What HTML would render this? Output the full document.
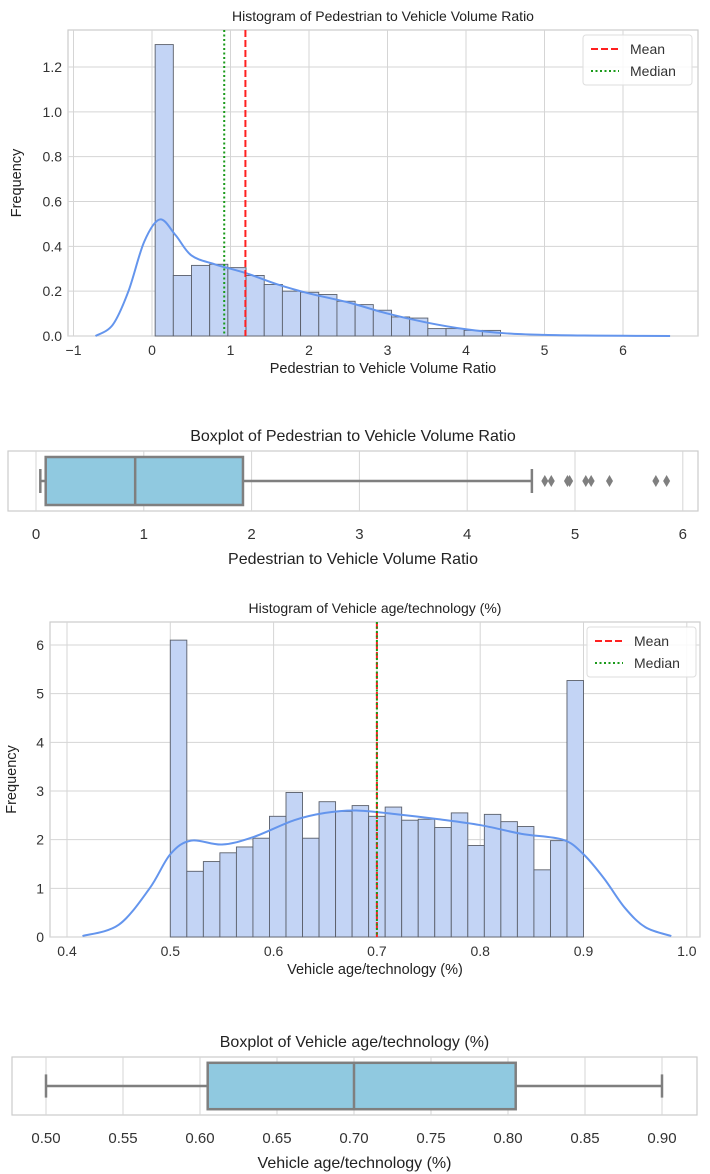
<!DOCTYPE html>
<html><head><meta charset="utf-8">
<style>
html,body{margin:0;padding:0;background:#fff;}
svg{display:block;font-family:"Liberation Sans",Arial,sans-serif;}
</style></head>
<body>
<svg id="s" width="710" height="1174" viewBox="0 0 710 1174"></svg>
<script>
// ---- Data: chart 1 (pedestrian ratio histogram)
const h1BinStart = 0.04;
const h1BinWidth = 0.2316;
const h1Counts = [1.30,0.27,0.315,0.32,0.305,0.27,0.23,0.20,0.195,0.185,0.155,0.14,0.115,0.085,0.08,0.033,0.033,0.025,0.025];
const h1KdeX = [-0.72,-0.5,-0.3,-0.1,0.1,0.3,0.5,0.8,1.2,1.6,2.0,2.5,3.0,3.5,4.0,4.5,5.0,5.5,6.0,6.6];
const h1KdeY = [0.0,0.05,0.2,0.42,0.52,0.45,0.36,0.32,0.28,0.23,0.19,0.15,0.10,0.06,0.03,0.012,0.005,0.002,0.001,0.0];
const h1Mean = 1.19, h1Median = 0.92;
const h1XTicks = [-1,0,1,2,3,4,5,6];
const h1YTicks = [0,0.2,0.4,0.6,0.8,1.0,1.2];
// ---- Data: chart 2 (pedestrian ratio boxplot)
const b1Stats = {wlo:0.04,q1:0.09,med:0.92,q3:1.92,whi:4.6};
const b1Outliers = [4.72,4.78,4.93,4.95,5.1,5.15,5.32,5.75,5.85];
const b1XTicks = [0,1,2,3,4,5,6];
// ---- Data: chart 3 (vehicle age histogram)
const h2BinStart = 0.5;
const h2BinWidth = 0.016;
const h2Counts = [6.1,1.35,1.55,1.73,1.85,2.03,2.48,2.97,2.03,2.78,2.58,2.7,2.48,2.67,2.4,2.42,2.25,2.55,1.88,2.52,2.37,2.27,1.38,1.98,5.27];
const h2KdeX = [0.415,0.45,0.48,0.5,0.52,0.55,0.58,0.62,0.65,0.68,0.72,0.76,0.8,0.84,0.88,0.9,0.92,0.94,0.96,0.985];
const h2KdeY = [0.02,0.25,1.0,1.7,1.98,1.9,2.05,2.4,2.55,2.6,2.52,2.42,2.3,2.12,2.0,1.7,1.2,0.6,0.2,0.02];
const h2Mean = 0.7, h2Median = 0.7;
const h2XTicks = [0.4,0.5,0.6,0.7,0.8,0.9,1.0];
const h2YTicks = [0,1,2,3,4,5,6];
// ---- Data: chart 4 (vehicle age boxplot)
const b2Stats = {wlo:0.5,q1:0.605,med:0.70,q3:0.805,whi:0.9};
const b2Outliers = [];
const b2XTicks = [0.50,0.55,0.60,0.65,0.70,0.75,0.80,0.85,0.90];

const svg = document.getElementById('s');
const NS = 'http://www.w3.org/2000/svg';
function el(tag, attrs, parent, text){
  const e = document.createElementNS(NS, tag);
  for (const k in attrs) e.setAttribute(k, attrs[k]);
  if (text !== undefined) e.textContent = text;
  (parent||svg).appendChild(e);
  return e;
}
function lin(d0,d1,r0,r1){return v=>r0+(v-d0)*(r1-r0)/(d1-d0);}
function smoothPath(pts){
  let d='M'+pts[0][0].toFixed(2)+','+pts[0][1].toFixed(2);
  for(let i=0;i<pts.length-1;i++){
    const p0=pts[Math.max(0,i-1)],p1=pts[i],p2=pts[i+1],p3=pts[Math.min(pts.length-1,i+2)];
    const c1x=p1[0]+(p2[0]-p0[0])/6,c1y=p1[1]+(p2[1]-p0[1])/6;
    const c2x=p2[0]-(p3[0]-p1[0])/6,c2y=p2[1]-(p3[1]-p1[1])/6;
    d+=` C${c1x.toFixed(2)},${c1y.toFixed(2)} ${c2x.toFixed(2)},${c2y.toFixed(2)} ${p2[0].toFixed(2)},${p2[1].toFixed(2)}`;
  }
  return d;
}

function histogram(o){
  const g = el('g',{});
  
  
  const X = lin(o.xd[0],o.xd[1],o.xr[0],o.xr[1]);
  const Y = lin(0,o.yd,o.bottom,o.ytop);
  const fr = el('rect',{x:o.left,y:o.top,width:o.right-o.left,height:o.bottom-o.top,fill:'#fff',stroke:'#cccccc','stroke-width':1.2},g);
  
  
  o.xt.forEach(t=>{
    const x=X(t);
    el('line',{x1:x,x2:x,y1:o.top,y2:o.bottom,stroke:'#d5d5d5','stroke-width':1},g);
    const lbl = el('text',{x:x,y:o.bottom+19,'text-anchor':'middle','font-size':14,fill:'#333'},g,o.xfmt(t));
    
    
  });
  o.yt.forEach(t=>{
    const y=Y(t);
    el('line',{x1:o.left,x2:o.right,y1:y,y2:y,stroke:'#d5d5d5','stroke-width':1},g);
    const lbl = el('text',{x:o.left-6,y:y+5,'text-anchor':'end','font-size':14,fill:'#333'},g,o.yfmt(t));
    
    
  });
  o.counts.forEach((c,i)=>{
    const x0=X(o.bs+i*o.bw), x1=X(o.bs+(i+1)*o.bw);
    const r = el('rect',{x:x0,y:Y(c),width:x1-x0,height:Y(0)-Y(c),fill:'#c3d4f5',stroke:'#5a5f6a','stroke-width':0.9},g);
    
    
  });
  const pts = o.kx.map((v,i)=>[X(v),Y(o.ky[i])]);
  const k = el('path',{d:smoothPath(pts),fill:'none',stroke:'#6495ed','stroke-width':2,'stroke-linejoin':'round'},g);
  
  
  const mx=X(o.mean), mdx=X(o.median);
  const ml = el('line',{x1:mx,x2:mx,y1:o.top,y2:o.bottom,stroke:'#ff2020','stroke-width':2,'stroke-dasharray':'7,3'},g);
  
  
  const mdl = el('line',{x1:mdx,x2:mdx,y1:o.top,y2:o.bottom,stroke:'#1a9a1a','stroke-width':2,'stroke-dasharray':'2,2.5'},g);
  
  
  const lg = el('g',{},g);
  
  
  const lx=o.legend[0], ly=o.legend[1];
  el('rect',{x:lx,y:ly,width:109,height:50,rx:3,fill:'#fff','fill-opacity':0.85,stroke:'#dddddd'},lg);
  el('line',{x1:lx+8,x2:lx+36,y1:ly+14,y2:ly+14,stroke:'#ff2020','stroke-width':2,'stroke-dasharray':'7,3'},lg);
  const t1=el('text',{x:lx+47,y:ly+19,'font-size':14,fill:'#333'},lg,'Mean');
  
  
  el('line',{x1:lx+8,x2:lx+36,y1:ly+36,y2:ly+36,stroke:'#1a9a1a','stroke-width':2,'stroke-dasharray':'2,2.5'},lg);
  const t2=el('text',{x:lx+47,y:ly+41,'font-size':14,fill:'#333'},lg,'Median');
  
  
  const tt=el('text',{x:(o.left+o.right)/2,y:o.top-9,'text-anchor':'middle','font-size':14,fill:'#222'},g,o.title);
  
  
  const xl=el('text',{x:(o.left+o.right)/2,y:o.bottom+37,'text-anchor':'middle','font-size':14.5,fill:'#222'},g,o.xlabel);
  
  
  const cy=(o.top+o.bottom)/2;
  const yl=el('text',{x:o.ylx,y:cy,'text-anchor':'middle','font-size':14.5,fill:'#222',transform:'rotate(-90 '+o.ylx+' '+cy+')'},g,'Frequency');
  
  
}

function boxplot(o){
  const g = el('g',{});
  
  
  const X = lin(o.xd[0],o.xd[1],o.xr[0],o.xr[1]);
  el('rect',{x:o.left,y:o.top,width:o.right-o.left,height:o.bottom-o.top,fill:'#fff',stroke:'#cccccc','stroke-width':1.2},g);
  o.xt.forEach(t=>{
    const x=X(t);
    el('line',{x1:x,x2:x,y1:o.top,y2:o.bottom,stroke:'#d5d5d5','stroke-width':1},g);
    const lbl=el('text',{x:x,y:o.bottom+28,'text-anchor':'middle','font-size':15,fill:'#333'},g,o.xfmt(t));
    
    
  });
  const s=o.s, cy=(o.top+o.bottom)/2, bh=(o.bottom-o.top)*0.8;
  const c='#7f7f7f';
  el('line',{x1:X(s.wlo),x2:X(s.q1),y1:cy,y2:cy,stroke:c,'stroke-width':2.5},g);
  el('line',{x1:X(s.q3),x2:X(s.whi),y1:cy,y2:cy,stroke:c,'stroke-width':2.5},g);
  el('line',{x1:X(s.wlo),x2:X(s.wlo),y1:cy-bh/4,y2:cy+bh/4,stroke:c,'stroke-width':2.5},g);
  el('line',{x1:X(s.whi),x2:X(s.whi),y1:cy-bh/4,y2:cy+bh/4,stroke:c,'stroke-width':2.5},g);
  const b=el('rect',{x:X(s.q1),y:cy-bh/2,width:X(s.q3)-X(s.q1),height:bh,fill:'#90c9e0',stroke:c,'stroke-width':2.5},g);
  
  
  const m=el('line',{x1:X(s.med),x2:X(s.med),y1:cy-bh/2,y2:cy+bh/2,stroke:c,'stroke-width':2.5},g);
  
  
  o.out.forEach(v=>{
    const x=X(v);
    const p=el('path',{d:`M${x},${cy-6} L${x+3.5},${cy} L${x},${cy+6} L${x-3.5},${cy} Z`,fill:c},g);
    
    
  });
  const tt=el('text',{x:(o.left+o.right)/2,y:o.top-10,'text-anchor':'middle','font-size':16,fill:'#222'},g,o.title);
  
  
  const xl=el('text',{x:(o.left+o.right)/2,y:o.bottom+53,'text-anchor':'middle','font-size':16,fill:'#222'},g,o.xlabel);
  
  
}

histogram({name:'histogram-pedestrian-ratio',left:68,right:698,top:30,bottom:336,
  xd:[0,1],xr:[152,230.5],yd:1.2,ytop:67,xt:h1XTicks,yt:h1YTicks,
  xfmt:t=>t<0?'\u2212'+(-t):String(t),yfmt:t=>t.toFixed(1),
  counts:h1Counts,bs:h1BinStart,bw:h1BinWidth,kx:h1KdeX,ky:h1KdeY,mean:h1Mean,median:h1Median,
  legend:[583,35],title:'Histogram of Pedestrian to Vehicle Volume Ratio',
  xlabel:'Pedestrian to Vehicle Volume Ratio',ylx:21});

boxplot({name:'boxplot-pedestrian-ratio',left:8,right:698,top:451,bottom:511,
  xd:[0,1],xr:[36,143.8],xt:b1XTicks,xfmt:t=>String(t),s:b1Stats,out:b1Outliers,
  title:'Boxplot of Pedestrian to Vehicle Volume Ratio',xlabel:'Pedestrian to Vehicle Volume Ratio'});

histogram({name:'histogram-vehicle-age',left:50,right:700,top:622,bottom:937,
  xd:[0.4,0.5],xr:[67,170.3],yd:6,ytop:645,xt:h2XTicks,yt:h2YTicks,
  xfmt:t=>t.toFixed(1),yfmt:t=>String(t),
  counts:h2Counts,bs:h2BinStart,bw:h2BinWidth,kx:h2KdeX,ky:h2KdeY,mean:h2Mean,median:h2Median,
  legend:[587,627],title:'Histogram of Vehicle age/technology (%)',
  xlabel:'Vehicle age/technology (%)',ylx:16});

boxplot({name:'boxplot-vehicle-age',left:12,right:697,top:1057,bottom:1115,
  xd:[0.5,0.9],xr:[46,662],xt:b2XTicks,xfmt:t=>t.toFixed(2),s:b2Stats,out:b2Outliers,
  title:'Boxplot of Vehicle age/technology (%)',xlabel:'Vehicle age/technology (%)'});
</script>
</body></html>
